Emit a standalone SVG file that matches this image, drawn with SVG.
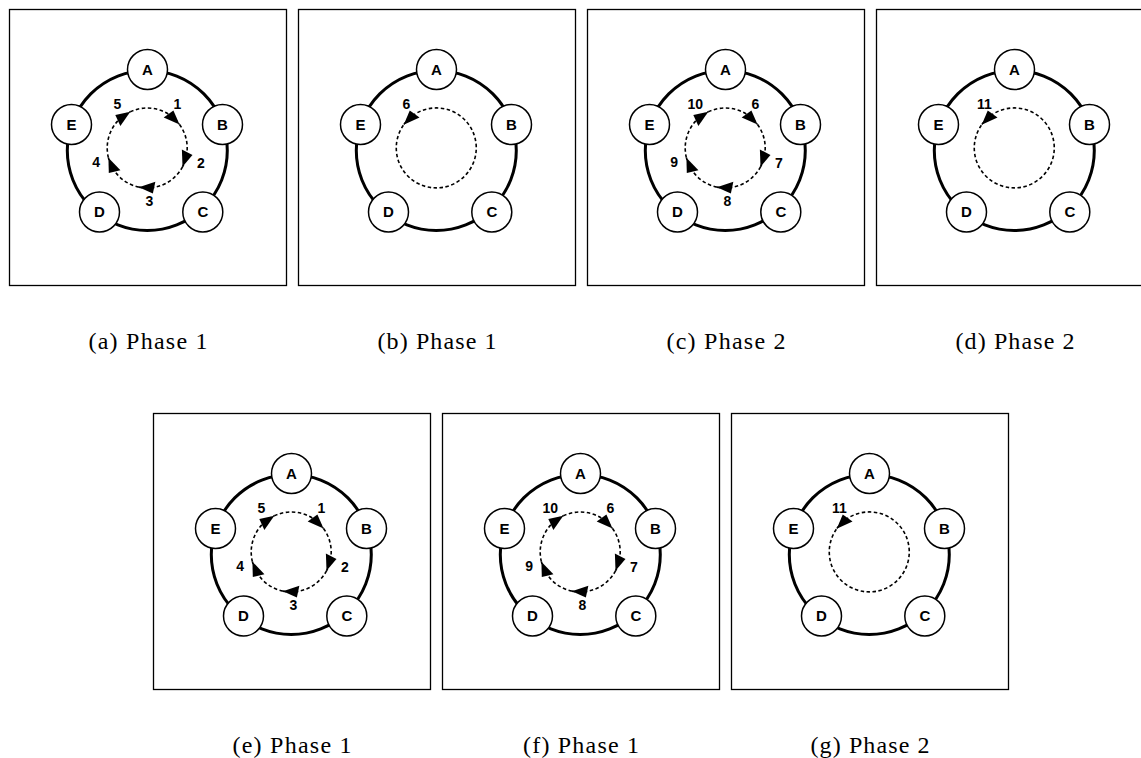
<svg xmlns="http://www.w3.org/2000/svg" width="1141" height="758" viewBox="0 0 1141 758">
<style>
.frame{fill:none;stroke:#000;stroke-width:1.3}
.ring{fill:none;stroke:#000;stroke-width:3}
.node circle{fill:#fff;stroke:#000;stroke-width:1.5}
.node text{font-family:"Liberation Sans",Arial,sans-serif;font-weight:bold;font-size:15px;text-anchor:middle;fill:#000}
.conn path{fill:none;stroke:#000;stroke-width:1.6;stroke-dasharray:3.5 2.5}
.num{font-family:"Liberation Sans",Arial,sans-serif;font-weight:bold;font-size:14px;text-anchor:middle;fill:#000}
.cap{font-family:"Liberation Serif","Times New Roman",serif;font-size:24px;text-anchor:middle;fill:#000}
</style>
<defs>
<marker id="cw" markerUnits="userSpaceOnUse" orient="auto" refX="0" refY="0" markerWidth="18" markerHeight="18" overflow="visible">
<path d="M0,0 L-15,-3.3 L-15,8.7 Z" fill="#000" stroke="none"/>
</marker>
<marker id="ccw" markerUnits="userSpaceOnUse" orient="auto" refX="0" refY="0" markerWidth="18" markerHeight="18" overflow="visible">
<path d="M0,0 L-15,-8.7 L-15,3.3 Z" fill="#000" stroke="none"/>
</marker>
</defs>
<rect width="1141" height="758" fill="#fff"/>

<!-- Panel a -->
<g id="panel-a" transform="translate(9.5,9.5)">
<rect class="frame" width="277" height="276"/>
<circle class="ring" cx="137.8" cy="141" r="80"/>
<g id="connectors-a" class="conn">
<path d="M120.80,102.25 A40,40 0 0 1 170.06,114.99" marker-end="url(#cw)"/>
<path d="M170.06,114.99 A40,40 0 0 1 173.02,157.28" marker-end="url(#cw)"/>
<path d="M173.02,157.28 A40,40 0 0 1 129.38,177.63" marker-end="url(#cw)"/>
<path d="M129.38,177.63 A40,40 0 0 1 98.89,148.18" marker-end="url(#cw)"/>
<path d="M98.89,148.18 A40,40 0 0 1 120.80,102.25" marker-end="url(#cw)"/>
</g>
<text class="num" x="167.8" y="99.8">1</text>
<text class="num" x="191.5" y="158">2</text>
<text class="num" x="140" y="196.4">3</text>
<text class="num" x="86.6" y="157">4</text>
<text class="num" x="107.8" y="99.6">5</text>
<g id="a-A" class="node"><circle cx="138" cy="60" r="20"/><text x="138" y="65.4">A</text></g>
<g id="a-B" class="node"><circle cx="213" cy="115" r="20"/><text x="213" y="120.4">B</text></g>
<g id="a-C" class="node"><circle cx="193.3" cy="202.5" r="20"/><text x="193.3" y="207.9">C</text></g>
<g id="a-D" class="node"><circle cx="90" cy="202.5" r="20"/><text x="90" y="207.9">D</text></g>
<g id="a-E" class="node"><circle cx="62" cy="115" r="20"/><text x="62" y="120.4">E</text></g>
</g>

<!-- Panel b -->
<g id="panel-b" transform="translate(298.5,9.5)">
<rect class="frame" width="277" height="276"/>
<circle class="ring" cx="137.8" cy="141" r="80"/>
<g id="connectors-b" class="conn">
<path d="M104.82,115.73 A40,40 0 1 0 105.22,115.16" marker-end="url(#ccw)"/>
</g>
<text class="num" x="108" y="99">6</text>
<g id="b-A" class="node"><circle cx="138" cy="60" r="20"/><text x="138" y="65.4">A</text></g>
<g id="b-B" class="node"><circle cx="213" cy="115" r="20"/><text x="213" y="120.4">B</text></g>
<g id="b-C" class="node"><circle cx="193.3" cy="202.5" r="20"/><text x="193.3" y="207.9">C</text></g>
<g id="b-D" class="node"><circle cx="90" cy="202.5" r="20"/><text x="90" y="207.9">D</text></g>
<g id="b-E" class="node"><circle cx="62" cy="115" r="20"/><text x="62" y="120.4">E</text></g>
</g>

<!-- Panel c -->
<g id="panel-c" transform="translate(587.5,9.5)">
<rect class="frame" width="277" height="276"/>
<circle class="ring" cx="137.8" cy="141" r="80"/>
<g id="connectors-c" class="conn">
<path d="M120.80,102.25 A40,40 0 0 1 170.06,114.99" marker-end="url(#cw)"/>
<path d="M170.06,114.99 A40,40 0 0 1 173.02,157.28" marker-end="url(#cw)"/>
<path d="M173.02,157.28 A40,40 0 0 1 129.38,177.63" marker-end="url(#cw)"/>
<path d="M129.38,177.63 A40,40 0 0 1 98.89,148.18" marker-end="url(#cw)"/>
<path d="M98.89,148.18 A40,40 0 0 1 120.80,102.25" marker-end="url(#cw)"/>
</g>
<text class="num" x="167.8" y="99.8">6</text>
<text class="num" x="191.5" y="158">7</text>
<text class="num" x="140" y="196.4">8</text>
<text class="num" x="86.6" y="157">9</text>
<text class="num" x="107.8" y="99.6">10</text>
<g id="c-A" class="node"><circle cx="138" cy="60" r="20"/><text x="138" y="65.4">A</text></g>
<g id="c-B" class="node"><circle cx="213" cy="115" r="20"/><text x="213" y="120.4">B</text></g>
<g id="c-C" class="node"><circle cx="193.3" cy="202.5" r="20"/><text x="193.3" y="207.9">C</text></g>
<g id="c-D" class="node"><circle cx="90" cy="202.5" r="20"/><text x="90" y="207.9">D</text></g>
<g id="c-E" class="node"><circle cx="62" cy="115" r="20"/><text x="62" y="120.4">E</text></g>
</g>

<!-- Panel d -->
<g id="panel-d" transform="translate(876.5,9.5)">
<rect class="frame" width="277" height="276"/>
<circle class="ring" cx="137.8" cy="141" r="80"/>
<g id="connectors-d" class="conn">
<path d="M104.82,115.73 A40,40 0 1 0 105.22,115.16" marker-end="url(#ccw)"/>
</g>
<text class="num" x="108" y="99">11</text>
<g id="d-A" class="node"><circle cx="138" cy="60" r="20"/><text x="138" y="65.4">A</text></g>
<g id="d-B" class="node"><circle cx="213" cy="115" r="20"/><text x="213" y="120.4">B</text></g>
<g id="d-C" class="node"><circle cx="193.3" cy="202.5" r="20"/><text x="193.3" y="207.9">C</text></g>
<g id="d-D" class="node"><circle cx="90" cy="202.5" r="20"/><text x="90" y="207.9">D</text></g>
<g id="d-E" class="node"><circle cx="62" cy="115" r="20"/><text x="62" y="120.4">E</text></g>
</g>

<!-- Panel e -->
<g id="panel-e" transform="translate(153.5,413.5)">
<rect class="frame" width="277" height="276"/>
<circle class="ring" cx="137.8" cy="141" r="80"/>
<g id="connectors-e" class="conn">
<path d="M120.80,102.25 A40,40 0 0 1 170.06,114.99" marker-end="url(#cw)"/>
<path d="M170.06,114.99 A40,40 0 0 1 173.02,157.28" marker-end="url(#cw)"/>
<path d="M173.02,157.28 A40,40 0 0 1 129.38,177.63" marker-end="url(#cw)"/>
<path d="M129.38,177.63 A40,40 0 0 1 98.89,148.18" marker-end="url(#cw)"/>
<path d="M98.89,148.18 A40,40 0 0 1 120.80,102.25" marker-end="url(#cw)"/>
</g>
<text class="num" x="167.8" y="99.8">1</text>
<text class="num" x="191.5" y="158">2</text>
<text class="num" x="140" y="196.4">3</text>
<text class="num" x="86.6" y="157">4</text>
<text class="num" x="107.8" y="99.6">5</text>
<g id="e-A" class="node"><circle cx="138" cy="60" r="20"/><text x="138" y="65.4">A</text></g>
<g id="e-B" class="node"><circle cx="213" cy="115" r="20"/><text x="213" y="120.4">B</text></g>
<g id="e-C" class="node"><circle cx="193.3" cy="202.5" r="20"/><text x="193.3" y="207.9">C</text></g>
<g id="e-D" class="node"><circle cx="90" cy="202.5" r="20"/><text x="90" y="207.9">D</text></g>
<g id="e-E" class="node"><circle cx="62" cy="115" r="20"/><text x="62" y="120.4">E</text></g>
</g>

<!-- Panel f -->
<g id="panel-f" transform="translate(442.5,413.5)">
<rect class="frame" width="277" height="276"/>
<circle class="ring" cx="137.8" cy="141" r="80"/>
<g id="connectors-f" class="conn">
<path d="M120.80,102.25 A40,40 0 0 1 170.06,114.99" marker-end="url(#cw)"/>
<path d="M170.06,114.99 A40,40 0 0 1 173.02,157.28" marker-end="url(#cw)"/>
<path d="M173.02,157.28 A40,40 0 0 1 129.38,177.63" marker-end="url(#cw)"/>
<path d="M129.38,177.63 A40,40 0 0 1 98.89,148.18" marker-end="url(#cw)"/>
<path d="M98.89,148.18 A40,40 0 0 1 120.80,102.25" marker-end="url(#cw)"/>
</g>
<text class="num" x="167.8" y="99.8">6</text>
<text class="num" x="191.5" y="158">7</text>
<text class="num" x="140" y="196.4">8</text>
<text class="num" x="86.6" y="157">9</text>
<text class="num" x="107.8" y="99.6">10</text>
<g id="f-A" class="node"><circle cx="138" cy="60" r="20"/><text x="138" y="65.4">A</text></g>
<g id="f-B" class="node"><circle cx="213" cy="115" r="20"/><text x="213" y="120.4">B</text></g>
<g id="f-C" class="node"><circle cx="193.3" cy="202.5" r="20"/><text x="193.3" y="207.9">C</text></g>
<g id="f-D" class="node"><circle cx="90" cy="202.5" r="20"/><text x="90" y="207.9">D</text></g>
<g id="f-E" class="node"><circle cx="62" cy="115" r="20"/><text x="62" y="120.4">E</text></g>
</g>

<!-- Panel g -->
<g id="panel-g" transform="translate(731.5,413.5)">
<rect class="frame" width="277" height="276"/>
<circle class="ring" cx="137.8" cy="141" r="80"/>
<g id="connectors-g" class="conn">
<path d="M104.82,115.73 A40,40 0 1 0 105.22,115.16" marker-end="url(#ccw)"/>
</g>
<text class="num" x="108" y="99">11</text>
<g id="g-A" class="node"><circle cx="138" cy="60" r="20"/><text x="138" y="65.4">A</text></g>
<g id="g-B" class="node"><circle cx="213" cy="115" r="20"/><text x="213" y="120.4">B</text></g>
<g id="g-C" class="node"><circle cx="193.3" cy="202.5" r="20"/><text x="193.3" y="207.9">C</text></g>
<g id="g-D" class="node"><circle cx="90" cy="202.5" r="20"/><text x="90" y="207.9">D</text></g>
<g id="g-E" class="node"><circle cx="62" cy="115" r="20"/><text x="62" y="120.4">E</text></g>
</g>

<!-- Captions -->
<g id="captions">
<text class="cap" x="148" y="349.3" textLength="119" lengthAdjust="spacing">(a) Phase 1</text>
<text class="cap" x="437" y="349.3" textLength="119" lengthAdjust="spacing">(b) Phase 1</text>
<text class="cap" x="726" y="349.3" textLength="119" lengthAdjust="spacing">(c) Phase 2</text>
<text class="cap" x="1015" y="349.3" textLength="119" lengthAdjust="spacing">(d) Phase 2</text>
<text class="cap" x="292" y="753.3" textLength="119" lengthAdjust="spacing">(e) Phase 1</text>
<text class="cap" x="581" y="753.3" textLength="116" lengthAdjust="spacing">(f) Phase 1</text>
<text class="cap" x="870" y="753.3" textLength="119" lengthAdjust="spacing">(g) Phase 2</text>
</g>
</svg>
